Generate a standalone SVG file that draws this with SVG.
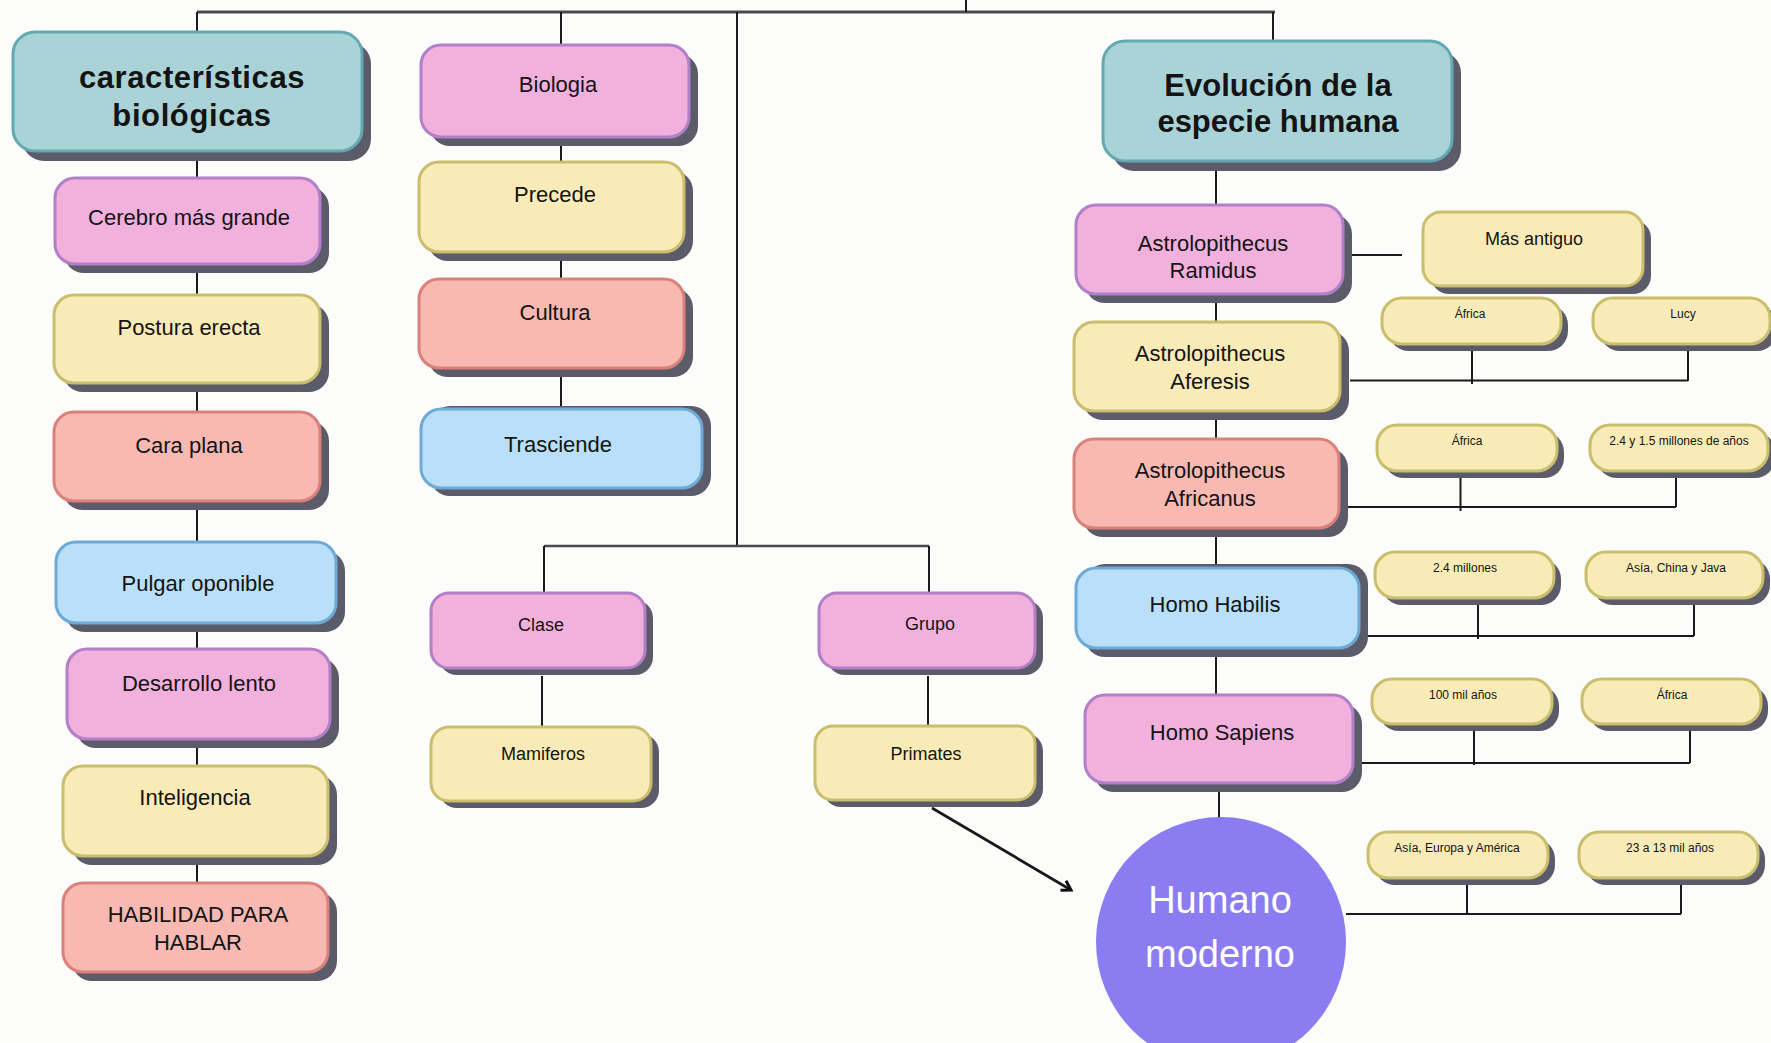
<svg xmlns="http://www.w3.org/2000/svg" width="1771" height="1043" viewBox="0 0 1771 1043">
<style>
.bg{fill:#fcfcfa}
.sh{fill:#5b5b6a}
.pink{fill:#f2b0dc;stroke:#b27fc9;stroke-width:3}
.yel{fill:#f9ebb8;stroke:#c8be6c;stroke-width:3}
.sal{fill:#f7b9b2;stroke:#d9817a;stroke-width:3}
.blu{fill:#b9e0f8;stroke:#6eaad8;stroke-width:3}
.teal{fill:#a9d3d6;stroke:#62a9b2;stroke-width:3}
text{font-family:"Liberation Sans",Arial,Helvetica,sans-serif;fill:#141414;text-anchor:middle}
.h{font-size:31px;font-weight:bold}
.m{font-size:22px}
.s{font-size:18px}
.xs{font-size:12px}
.w{fill:#ffffff;font-size:38px}
.ln{stroke:#1a1a1a;stroke-width:2;fill:none}
.lt{stroke:#4a4a4a;stroke-width:3;fill:none}
</style>
<defs>
<marker id="arr" viewBox="0 0 14 14" refX="11" refY="7" markerWidth="14" markerHeight="14" markerUnits="userSpaceOnUse" orient="auto">
<path d="M2,1.5 L11,7 L2,12.5" fill="none" stroke="#111" stroke-width="3" stroke-linejoin="miter"/>
</marker>
</defs>
<rect class="bg" x="0" y="0" width="1771" height="1043"/>

<g id="connectors">
<path class="lt" d="M197,12 H1275"/>
<path class="ln" d="M966,0 V12"/>
<path class="ln" d="M197,12 V32"/>
<path class="ln" d="M561,12 V45"/>
<path class="ln" d="M737,12 V546"/>
<path class="ln" d="M1273,12 V41"/>
<path class="ln" d="M197,151 V178 M197,264 V295 M197,383 V412 M197,501 V542 M197,623 V649 M197,739 V766 M197,856 V883"/>
<path class="ln" d="M561,137 V162 M561,252 V279 M561,368 V409"/>
<path class="lt" d="M544,546 H929" style="stroke-width:2.5"/>
<path class="ln" d="M544,546 V593 M929,546 V593"/>
<path class="ln" d="M542,676 V727 M928,676 V726"/>
<path class="ln" d="M932,808 L1071,890" style="stroke-width:2.8" marker-end="url(#arr)"/>
<path class="ln" d="M1216,161 V205 M1216,294 V322 M1216,411 V439 M1216,528 V568 M1216,648 V695 M1219,783 V818"/>
<path class="ln" d="M1352,255 H1402"/>
<path class="ln" d="M1350,380.5 H1688 M1472,349 V384 M1688,348 V381"/>
<path class="ln" d="M1341,507 H1676 M1460.5,475 V511 M1676,475 V507"/>
<path class="ln" d="M1359,636 H1694 M1478,604 V639 M1694,603 V636"/>
<path class="ln" d="M1359,763 H1690 M1474,731 V765 M1690,728 V763"/>
<path class="ln" d="M1346,914 H1681 M1467,882 V914 M1681,882 V914"/>
</g>

<g id="n-caracteristicas">
<rect class="sh" x="22" y="42" width="349" height="119" rx="22"/>
<rect class="teal" x="13" y="32" width="349" height="119" rx="22"/>
<text class="h" x="192" y="88" letter-spacing="0.6">características</text>
<text class="h" x="192" y="126" letter-spacing="0.6">biológicas</text>
</g>
<g id="n-cerebro">
<rect class="sh" x="64" y="187" width="265" height="86" rx="20"/>
<rect class="pink" x="55" y="178" width="265" height="86" rx="20"/>
<text class="m" x="189" y="225">Cerebro más grande</text>
</g>
<g id="n-postura">
<rect class="sh" x="63" y="304" width="266" height="88" rx="20"/>
<rect class="yel" x="54" y="295" width="266" height="88" rx="20"/>
<text class="m" x="189" y="335">Postura erecta</text>
</g>
<g id="n-cara">
<rect class="sh" x="63" y="421" width="266" height="89" rx="20"/>
<rect class="sal" x="54" y="412" width="266" height="89" rx="20"/>
<text class="m" x="189" y="453">Cara plana</text>
</g>
<g id="n-pulgar">
<rect class="sh" x="65" y="551" width="280" height="81" rx="20"/>
<rect class="blu" x="56" y="542" width="280" height="81" rx="20"/>
<text class="m" x="198" y="591">Pulgar oponible</text>
</g>
<g id="n-desarrollo">
<rect class="sh" x="76" y="658" width="263" height="90" rx="20"/>
<rect class="pink" x="67" y="649" width="263" height="90" rx="20"/>
<text class="m" x="199" y="691">Desarrollo lento</text>
</g>
<g id="n-inteligencia">
<rect class="sh" x="72" y="775" width="265" height="90" rx="20"/>
<rect class="yel" x="63" y="766" width="265" height="90" rx="20"/>
<text class="m" x="195" y="805">Inteligencia</text>
</g>
<g id="n-habilidad">
<rect class="sh" x="72" y="892" width="265" height="89" rx="20"/>
<rect class="sal" x="63" y="883" width="265" height="89" rx="20"/>
<text class="m" x="198" y="922">HABILIDAD PARA</text>
<text class="m" x="198" y="950">HABLAR</text>
</g>

<g id="n-biologia">
<rect class="sh" x="430" y="54" width="268" height="92" rx="20"/>
<rect class="pink" x="421" y="45" width="268" height="92" rx="20"/>
<text class="m" x="558" y="92">Biologia</text>
</g>
<g id="n-precede">
<rect class="sh" x="428" y="171" width="265" height="90" rx="20"/>
<rect class="yel" x="419" y="162" width="265" height="90" rx="20"/>
<text class="m" x="555" y="202">Precede</text>
</g>
<g id="n-cultura">
<rect class="sh" x="428" y="288" width="265" height="89" rx="20"/>
<rect class="sal" x="419" y="279" width="265" height="89" rx="20"/>
<text class="m" x="555" y="320">Cultura</text>
</g>
<g id="n-trasciende">
<rect class="sh" x="430" y="406" width="281" height="90" rx="20"/>
<rect class="blu" x="421" y="409" width="281" height="79" rx="20"/>
<text class="m" x="558" y="452">Trasciende</text>
</g>
<g id="n-clase">
<rect class="sh" x="439" y="600" width="214" height="75" rx="18"/>
<rect class="pink" x="431" y="593" width="214" height="75" rx="18"/>
<text class="s" x="541" y="631">Clase</text>
</g>
<g id="n-grupo">
<rect class="sh" x="827" y="600" width="216" height="75" rx="18"/>
<rect class="pink" x="819" y="593" width="216" height="75" rx="18"/>
<text class="s" x="930" y="630">Grupo</text>
</g>
<g id="n-mamiferos">
<rect class="sh" x="439" y="734" width="220" height="74" rx="18"/>
<rect class="yel" x="431" y="727" width="220" height="74" rx="18"/>
<text class="s" x="543" y="760">Mamiferos</text>
</g>
<g id="n-primates">
<rect class="sh" x="823" y="733" width="220" height="74" rx="18"/>
<rect class="yel" x="815" y="726" width="220" height="74" rx="18"/>
<text class="s" x="926" y="760">Primates</text>
</g>

<g id="n-evolucion">
<rect class="sh" x="1112" y="51" width="349" height="120" rx="22"/>
<rect class="teal" x="1103" y="41" width="349" height="120" rx="22"/>
<text class="h" x="1278" y="96">Evolución de la</text>
<text class="h" x="1278" y="132">especie humana</text>
</g>
<g id="n-ramidus">
<rect class="sh" x="1085" y="214" width="267" height="89" rx="20"/>
<rect class="pink" x="1076" y="205" width="267" height="89" rx="20"/>
<text class="m" x="1213" y="251">Astrolopithecus</text>
<text class="m" x="1213" y="278">Ramidus</text>
</g>
<g id="n-masantiguo">
<rect class="sh" x="1431" y="220" width="220" height="74" rx="18"/>
<rect class="yel" x="1423" y="212" width="220" height="74" rx="18"/>
<text class="s" x="1534" y="245">Más antiguo</text>
</g>
<g id="n-africa1">
<rect class="sh" x="1389" y="305" width="179" height="46" rx="20"/>
<rect class="yel" x="1382" y="298" width="179" height="46" rx="20"/>
<text class="xs" x="1470" y="318">África</text>
</g>
<g id="n-lucy">
<rect class="sh" x="1600" y="305" width="177" height="46" rx="20"/>
<rect class="yel" x="1593" y="298" width="177" height="46" rx="20"/>
<text class="xs" x="1683" y="318">Lucy</text>
</g>
<g id="n-aferesis">
<rect class="sh" x="1083" y="331" width="266" height="89" rx="20"/>
<rect class="yel" x="1074" y="322" width="266" height="89" rx="20"/>
<text class="m" x="1210" y="361">Astrolopithecus</text>
<text class="m" x="1210" y="389">Aferesis</text>
</g>
<g id="n-africanus">
<rect class="sh" x="1083" y="448" width="265" height="89" rx="20"/>
<rect class="sal" x="1074" y="439" width="265" height="89" rx="20"/>
<text class="m" x="1210" y="478">Astrolopithecus</text>
<text class="m" x="1210" y="506">Africanus</text>
</g>
<g id="n-africa2">
<rect class="sh" x="1384" y="432" width="180" height="46" rx="20"/>
<rect class="yel" x="1377" y="425" width="180" height="46" rx="20"/>
<text class="xs" x="1467" y="445">África</text>
</g>
<g id="n-mill24y15">
<rect class="sh" x="1597" y="432" width="178" height="46" rx="20"/>
<rect class="yel" x="1590" y="425" width="178" height="46" rx="20"/>
<text class="xs" x="1679" y="445">2.4 y 1.5 millones de años</text>
</g>
<g id="n-habilis">
<rect class="sh" x="1085" y="564" width="283" height="93" rx="20"/>
<rect class="blu" x="1076" y="568" width="283" height="80" rx="20"/>
<text class="m" x="1215" y="612">Homo Habilis</text>
</g>
<g id="n-mill24">
<rect class="sh" x="1382" y="559" width="179" height="46" rx="20"/>
<rect class="yel" x="1375" y="552" width="179" height="46" rx="20"/>
<text class="xs" x="1465" y="572">2.4 millones</text>
</g>
<g id="n-asiachina">
<rect class="sh" x="1593" y="559" width="177" height="46" rx="20"/>
<rect class="yel" x="1586" y="552" width="177" height="46" rx="20"/>
<text class="xs" x="1676" y="572">Asía, China y Java</text>
</g>
<g id="n-sapiens">
<rect class="sh" x="1094" y="704" width="268" height="88" rx="20"/>
<rect class="pink" x="1085" y="695" width="268" height="88" rx="20"/>
<text class="m" x="1222" y="740">Homo Sapiens</text>
</g>
<g id="n-cienmil">
<rect class="sh" x="1379" y="686" width="180" height="45" rx="20"/>
<rect class="yel" x="1372" y="679" width="180" height="45" rx="20"/>
<text class="xs" x="1463" y="699">100 mil años</text>
</g>
<g id="n-africa3">
<rect class="sh" x="1589" y="686" width="179" height="45" rx="20"/>
<rect class="yel" x="1582" y="679" width="179" height="45" rx="20"/>
<text class="xs" x="1672" y="699">África</text>
</g>
<g id="n-humano">
<circle cx="1221" cy="942" r="125" fill="#8c7cf2"/>
<text class="w" x="1220" y="913">Humano</text>
<text class="w" x="1220" y="967">moderno</text>
</g>
<g id="n-asiaeuropa">
<rect class="sh" x="1375" y="839" width="180" height="46" rx="20"/>
<rect class="yel" x="1368" y="832" width="180" height="46" rx="20"/>
<text class="xs" x="1457" y="852">Asía, Europa y América</text>
</g>
<g id="n-veintitres">
<rect class="sh" x="1586" y="839" width="179" height="46" rx="20"/>
<rect class="yel" x="1579" y="832" width="179" height="46" rx="20"/>
<text class="xs" x="1670" y="852">23 a 13 mil años</text>
</g>
</svg>
